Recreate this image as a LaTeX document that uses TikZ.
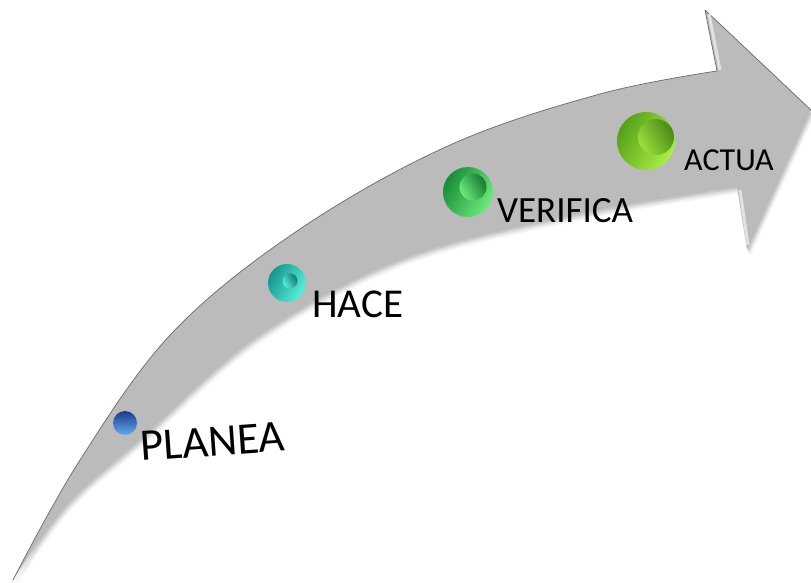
\documentclass[tikz,border=0pt]{standalone}
\usepackage{fontspec}
\setmainfont{Carlito}
\definecolor{arrowgray}{RGB}{187,187,187}
\definecolor{arrowedge}{RGB}{105,105,105}
\definecolor{bevel}{RGB}{225,225,225}
% button colours
\definecolor{bluedark}{RGB}{28,58,140}
\definecolor{bluelight}{RGB}{100,170,235}
\definecolor{turqdark}{RGB}{20,150,140}
\definecolor{turqlight}{RGB}{90,240,220}
\definecolor{greendark}{RGB}{25,140,55}
\definecolor{greenlight}{RGB}{110,235,125}
\definecolor{limedark}{RGB}{85,160,25}
\definecolor{limelight}{RGB}{170,240,70}
% upper side of the tapering curved arrow, and its full outline
\newcommand\upperside{plot[smooth,tension=0.6] coordinates {(13,580) (80,460) (173,332) (300,229) (450,145) (600,94) (717,71)}}
\newcommand\arrowoutline{plot[smooth,tension=0.6] coordinates {(13,580) (80,460) (173,332) (300,229) (450,145) (600,94) (717,71)} -- (705,10) -- (811,110) -- (747,250) -- (737,187) -- plot[smooth,tension=0.6] coordinates {(737,187) (573,215) (400,260) (257,337) (143,437) (67,505) (13,580)} -- cycle}
\tikzset{
  btn/.style={circle, inner sep=0pt, minimum size=#1},
  label/.style={anchor=base west, inner sep=0pt, text=black},
}
\begin{document}
\begin{tikzpicture}[x=1pt,y=-1pt]
  \useasboundingbox (0,0) rectangle (811,582);
  % soft drop shadow
  \fill[black, opacity=0.10, shift={(1,2)}] \arrowoutline;
  \fill[black, opacity=0.08, shift={(2,4)}] \arrowoutline;
  \fill[black, opacity=0.05, shift={(3,6)}] \arrowoutline;
  % arrow body
  \fill[arrowgray] \arrowoutline;
  % dark rim along the upper side
  \draw[arrowedge, line width=0.7pt, line join=round] \upperside;
  \draw[arrowedge, line width=0.7pt, line join=round] (717,71) -- (705,10) -- (811,110);
  % light bevel on the arrowhead's inner edges
  \draw[bevel, line width=3pt] (720,70) -- (709,14);
  \draw[bevel, line width=3pt] (740,190) -- (748,245);

  % buttons
  \node[btn=24pt, top color=bluedark, bottom color=bluelight] (planeaDot) at (125,423) {};

  \node[btn=38pt, shading=axis, top color=turqdark, bottom color=turqlight, shading angle=60] (haceDot) at (287,283) {};
  \node[btn=15pt, shading=axis, top color=turqdark!80!black, bottom color=turqlight, shading angle=-60] (haceIn) at (290,281) {};

  \node[btn=50pt, shading=axis, top color=greendark, bottom color=greenlight, shading angle=60] (verificaDot) at (468,192) {};
  \node[btn=27pt, shading=axis, top color=greendark!85!black, bottom color=greenlight, shading angle=-60] (verificaIn) at (473,187) {};

  \node[btn=58pt, shading=axis, top color=limedark, bottom color=limelight, shading angle=60] (actuaDot) at (646,141) {};
  \node[btn=36pt, shading=axis, top color=limedark!85!black, bottom color=limelight!80!limedark, shading angle=-60] (actuaIn) at (656,137) {};

  % labels
  \node[label, font=\fontsize{45}{45}\selectfont, rotate=4] (planea) at (141,461) {PLANEA};
  \node[label, font=\fontsize{41}{41}\selectfont] (hace) at (312,317) {HACE};
  \node[label, font=\fontsize{37}{37}\selectfont] (verifica) at (497,222) {VERIFICA};
  \node[label, font=\fontsize{32}{32}\selectfont] (actua) at (684,170) {ACTUA};
\end{tikzpicture}
\end{document}
